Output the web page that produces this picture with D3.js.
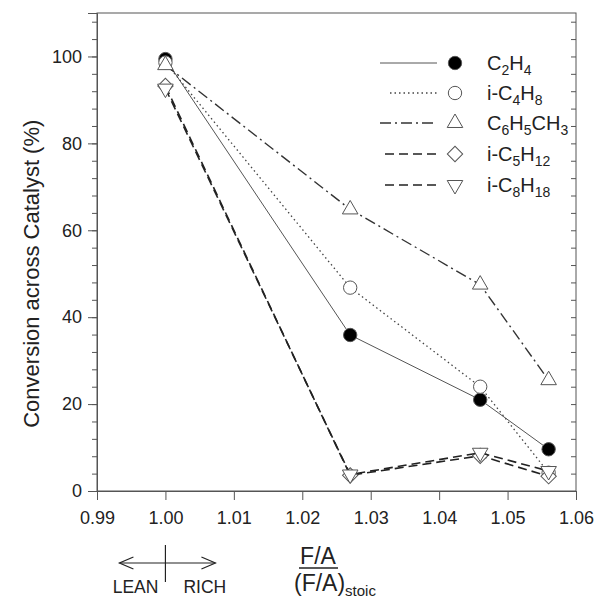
<!DOCTYPE html>
<html>
<head>
<meta charset="utf-8">
<script src="https://cdn.jsdelivr.net/npm/d3@7"></script>
<style>
  body { margin: 0; background: #fff; }
  text { font-family: Arial, "Liberation Sans", sans-serif; fill: #222; }
</style>
</head>
<body>
<script>
// ratio F/A over stoichiometric
const ratios = [1.000, 1.027, 1.046, 1.056];

const c2h4    = [99.4, 35.9, 21.0, 9.6];
const ic4h8   = [98.6, 46.8, 24.0, 4.2];
const toluene = [98.0, 64.8, 47.5, 25.5];
const ic5h12  = [93.2, 3.6, 8.1, 3.4];
const ic8h18  = [92.6, 3.8, 8.8, 4.6];

const xTicks = [0.99, 1.00, 1.01, 1.02, 1.03, 1.04, 1.05, 1.06];
const yTicks = [0, 20, 40, 60, 80, 100];

const W = 596, H = 599;
const pLeft = 97, pRight = 576, pTop = 13, pBottom = 491;

const series = [
  {name: [["C",0],["2",1],["H",0],["4",1]], vals: c2h4, sym: "circle", fill: "#000", dash: null, lw: 1, col: "#555"},
  {name: [["i-C",0],["4",1],["H",0],["8",1]], vals: ic4h8, sym: "circle", fill: "#fff", dash: "1.5,3", lw: 1.3, col: "#444"},
  {name: [["C",0],["6",1],["H",0],["5",1],["CH",0],["3",1]], vals: toluene, sym: "tri", fill: "#fff", dash: "11,4,2,4", lw: 1.4, col: "#333"},
  {name: [["i-C",0],["5",1],["H",0],["12",1]], vals: ic5h12, sym: "diamond", fill: "#fff", dash: "9,5", lw: 1.6, col: "#222"},
  {name: [["i-C",0],["8",1],["H",0],["18",1]], vals: ic8h18, sym: "tridown", fill: "#fff", dash: "9,5", lw: 1.6, col: "#222"}
];

const svg = d3.select("body").append("svg")
  .attr("width", W).attr("height", H);

const x = d3.scaleLinear().domain([0.99, 1.06]).range([pLeft, pRight]);
const y = d3.scaleLinear().domain([0, 110]).range([pBottom, pTop]);

// frame
svg.append("rect")
  .attr("x", pLeft).attr("y", pTop)
  .attr("width", pRight - pLeft).attr("height", pBottom - pTop)
  .attr("fill", "none").attr("stroke", "#555").attr("stroke-width", 1);

// bottom axis
const xAxis = svg.append("g").attr("transform", "translate(0," + pBottom + ")")
  .call(d3.axisBottom(x).tickValues(xTicks).tickSize(9).tickFormat(d3.format(".2f")).tickPadding(11));
xAxis.select(".domain").attr("stroke", "#555");
xAxis.selectAll("line").attr("stroke", "#555");
xAxis.selectAll("text").attr("font-size", 18).attr("fill", "#222");

// left axis, major + minor
const minor = d3.range(0, 110, 4);
svg.append("g").attr("transform", "translate(" + pLeft + ",0)")
  .call(d3.axisLeft(y).tickValues(minor).tickSize(5).tickFormat(""))
  .call(g => g.select(".domain").remove())
  .selectAll("line").attr("stroke", "#555");
const yAxis = svg.append("g").attr("transform", "translate(" + pLeft + ",0)")
  .call(d3.axisLeft(y).tickValues(yTicks).tickSize(9).tickPadding(6));
yAxis.select(".domain").attr("stroke", "#555");
yAxis.selectAll("line").attr("stroke", "#555");
yAxis.selectAll("text").attr("font-size", 18).attr("fill", "#222");

// right axis, ticks inside
svg.append("g").attr("transform", "translate(" + pRight + ",0)")
  .call(d3.axisLeft(y).tickValues(minor).tickSize(5).tickFormat(""))
  .call(g => g.select(".domain").remove())
  .selectAll("line").attr("stroke", "#555").attr("x2", -5);

// y title
svg.append("text")
  .attr("transform", "translate(39," + y(50) + ") rotate(-90)")
  .attr("text-anchor", "middle").attr("font-size", 22)
  .text("Conversion across Catalyst (%)");

function symPath(kind) {
  if (kind === "circle") return d3.symbol(d3.symbolCircle, 140)();
  if (kind === "diamond") return d3.symbol(d3.symbolSquare, 118)();
  return d3.symbol(d3.symbolTriangle, 105)();
}
function symRot(kind) {
  if (kind === "diamond") return 45;
  if (kind === "tridown") return 180;
  return 0;
}

const line = d3.line().x((d, i) => x(ratios[i])).y(d => y(d));

series.forEach(s => {
  svg.append("path")
    .datum(s.vals)
    .attr("d", line)
    .attr("fill", "none")
    .attr("stroke", s.col)
    .attr("stroke-width", s.lw)
    .attr("stroke-dasharray", s.dash);
  svg.selectAll(null).data(s.vals).enter().append("path")
    .attr("d", symPath(s.sym))
    .attr("transform", (d, i) => "translate(" + x(ratios[i]) + "," + y(d) + ") rotate(" + symRot(s.sym) + ")")
    .attr("fill", s.fill)
    .attr("stroke", "#555")
    .attr("stroke-width", 1);
});

// legend
const legRows = [63, 93, 123, 154, 185];
const legX0 = [380, 390, 380, 385, 385], legX1 = 437;
const leg = svg.append("g");
series.forEach((s, i) => {
  const ly = legRows[i];
  leg.append("line")
    .attr("x1", legX0[i]).attr("x2", legX1).attr("y1", ly).attr("y2", ly)
    .attr("stroke", s.col).attr("stroke-width", s.lw)
    .attr("stroke-dasharray", s.dash);
  leg.append("path")
    .attr("d", symPath(s.sym))
    .attr("transform", "translate(455," + ly + ") rotate(" + symRot(s.sym) + ")")
    .attr("fill", s.fill).attr("stroke", "#555");
  const t = leg.append("text").attr("x", 487).attr("y", ly + 7).attr("font-size", 20);
  s.name.forEach((p, j) => {
    t.append("tspan").text(p[0])
      .attr("font-size", p[1] ? 14 : 20)
      .attr("dy", p[1] ? 5 : (j > 0 ? -5 : 0));
  });
});

// lean / rich marker below the axis
const xs = x(1.00);
const ann = svg.append("g").attr("stroke", "#222").attr("fill", "none").attr("stroke-width", 1.2);
ann.append("line").attr("x1", xs).attr("x2", xs).attr("y1", 545).attr("y2", 582);
ann.append("line").attr("x1", xs).attr("x2", xs - 46).attr("y1", 563).attr("y2", 563);
ann.append("line").attr("x1", xs).attr("x2", xs + 50).attr("y1", 563).attr("y2", 563);
ann.append("path").attr("d", `M${xs - 32},557 L${xs - 46},563 L${xs - 32},569`);
ann.append("path").attr("d", `M${xs + 36},557 L${xs + 50},563 L${xs + 36},569`);
svg.append("text").attr("x", xs - 7).attr("y", 593).attr("text-anchor", "end").attr("font-size", 17.5).text("LEAN");
svg.append("text").attr("x", xs + 18).attr("y", 593).attr("font-size", 17.5).text("RICH");

// F/A over (F/A)stoic
svg.append("text").attr("x", 318).attr("y", 564).attr("text-anchor", "middle").attr("font-size", 23).text("F/A");
svg.append("line").attr("x1", 299).attr("x2", 338).attr("y1", 568).attr("y2", 568).attr("stroke", "#222").attr("stroke-width", 1.6);
const fr = svg.append("text").attr("x", 294).attr("y", 591).attr("font-size", 23);
fr.append("tspan").text("(F/A)");
fr.append("tspan").text("stoic").attr("font-size", 15).attr("dy", 5);
</script>
</body>
</html>
